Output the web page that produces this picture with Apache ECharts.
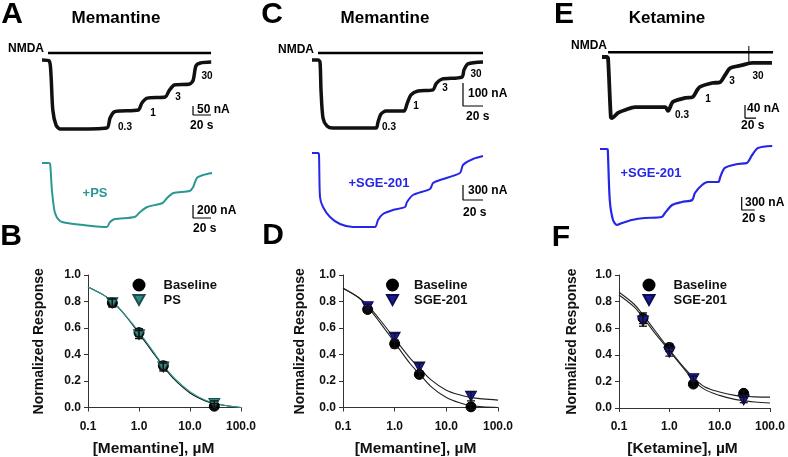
<!DOCTYPE html>
<html><head><meta charset="utf-8">
<script src="https://cdn.jsdelivr.net/npm/echarts/dist/echarts.min.js"></script>
<style>html,body{margin:0;padding:0;background:#fff}#c{width:788px;height:457px}</style>
</head><body><div id="c"></div>
<script>
// ---------- DATA ----------
// Current traces: [time (s), current (nA)]
const traceA = [[0,5],[8,0],[10,-78],[12,-272],[15.6,-356],[20,-378],[31,-378],[72,-372],[75.6,-317],[80,-283],[87,-278],[107,-272],[111,-233],[117,-206],[137,-200],[141,-167],[147,-133],[164,-128],[168,-106],[171,-28],[176,-11],[188,-6]];
const traceAPS = [[0,0],[7,0],[9,-15],[11,-415],[14.4,-769],[20,-892],[28,-923],[46,-954],[72,-985],[75.6,-908],[81,-862],[103,-831],[109,-754],[117,-677],[134,-615],[139,-538],[146,-462],[164,-431],[168,-369],[172,-231],[179,-185],[189,-154]];
const traceC = [[0,0],[6,0],[8,-9],[9,-130],[11,-252],[15,-287],[21,-296],[64,-296],[66,-270],[69,-235],[74,-222],[92,-222],[95,-191],[99,-152],[106,-135],[121,-130],[124,-104],[130,-83],[150,-74],[152,-43],[156,-17],[171,-9]];
const traceCSGE = [[0,0],[6,0],[7,-40],[8,-880],[11,-1080],[18,-1280],[28,-1420],[41,-1480],[63,-1480],[66,-1340],[71,-1220],[81,-1140],[93,-1080],[95,-980],[101,-840],[118,-720],[121,-600],[128,-540],[148,-400],[151,-240],[161,-120],[171,-60]];
const traceE = [[0,0],[9,0],[11,-3],[16,-185],[18,-188],[29,-172],[42,-163],[60,-154],[115,-154],[120,-166],[129,-138],[151,-126],[165,-123],[173,-102],[178,-92],[200,-80],[215,-77],[224,-55],[233,-34],[255,-25],[273,-18],[309,-18]];
const traceESGE = [[0,0],[11,0],[12,-23],[15,-1177],[20,-1638],[26,-1754],[34,-1708],[49,-1638],[69,-1592],[95,-1569],[100,-1477],[111,-1292],[126,-1223],[142,-1177],[146,-1015],[157,-831],[166,-762],[182,-762],[185,-646],[192,-438],[212,-346],[226,-323],[234,-138],[243,23],[265,69]];
// NMDA application periods [start s, end s]
const nmdaA = [6.7, 187.8];
const nmdaC = [6, 171];
const nmdaE = [11, 311];
const ketArtifactE = [34, -18];  // small artifact tick (nA range) at t=267
// Scale bars: [seconds, nA]
const scaleA = [20, 50], scaleAPS = [20, 200], scaleC = [20, 100], scaleCSGE = [20, 300], scaleE = [20, 40], scaleESGE = [20, 300];
const stepLabels = ['0.3', '1', '3', '30'];

// Concentration-response
const doseConc = [0.3, 1, 3, 30];
const memB_base = [0.79, 0.565, 0.315, 0.01];
const memB_baseErr = [0.03, 0.03, 0.03, 0.02];
const memB_ps = [0.79, 0.55, 0.305, 0.03];
const memB_psErr = [0.03, 0.03, 0.03, 0.02];
const memD_base = [0.74, 0.48, 0.25, 0.005];
const memD_baseErr = [0.02, 0.03, 0.02, 0.02];
const memD_sge = [0.76, 0.53, 0.305, 0.085];
const memD_sgeErr = [0.02, 0.03, 0.03, 0.035];
const ketF_base = [0.675, 0.455, 0.18, 0.11];
const ketF_baseErr = [0.04, 0.03, 0.02, 0.02];
const ketF_sge = [0.655, 0.42, 0.22, 0.06];
const ketF_sgeErr = [0.04, 0.03, 0.02, 0.02];
// Fitted curves read at these concentrations
const fitX = [0.1, 0.2, 0.3, 0.5, 1, 2, 3, 5, 10, 20, 30, 50, 100];
const fitB_base = [0.91, 0.85, 0.80, 0.71, 0.56, 0.40, 0.31, 0.21, 0.11, 0.05, 0.03, 0.015, 0.0];
const fitB_ps   = [0.91, 0.85, 0.80, 0.71, 0.57, 0.41, 0.32, 0.22, 0.12, 0.055, 0.035, 0.015, 0.0];
const fitD_base = [0.90, 0.83, 0.76, 0.65, 0.49, 0.33, 0.255, 0.16, 0.075, 0.03, 0.015, 0.005, 0.0];
const fitD_sge  = [0.90, 0.83, 0.77, 0.67, 0.52, 0.37, 0.30, 0.21, 0.13, 0.09, 0.075, 0.065, 0.056];
const fitF_base = [0.87, 0.78, 0.70, 0.59, 0.44, 0.30, 0.23, 0.16, 0.12, 0.095, 0.088, 0.084, 0.082];
const fitF_sge  = [0.85, 0.76, 0.68, 0.57, 0.43, 0.29, 0.21, 0.14, 0.095, 0.065, 0.055, 0.045, 0.038];

// ---------- LAYOUT ----------
const FF = '"Liberation Sans", Arial, Helvetica, sans-serif';
const TEAL = '#2a9892', TEAL_MK = '#2d8a86', BLUE = '#2626e6', NAVY = '#1c1c96';
// trace panels: origin px (x0,y0) for t=0,I=0 ; px per s ; px per nA ; axis ranges
const tl = [
  {x0:42,  y0:61,  sx:0.9,  sy:0.18,    t:[0,200], i:[-400,100]},
  {x0:42,  y0:163, sx:0.9,  sy:0.065,   t:[0,200], i:[-1200,200]},
  {x0:312, y0:60,  sx:1.0,  sy:0.23,    t:[0,180], i:[-400,100]},
  {x0:312, y0:153, sx:1.0,  sy:0.05,    t:[0,180], i:[-1800,200]},
  {x0:602, y0:57,  sx:0.55, sy:0.325,   t:[0,320], i:[-240,60]},
  {x0:600, y0:149, sx:0.65, sy:13/300,  t:[0,280], i:[-2100,200]}
];
const grids = tl.map(L => ({left: L.x0 + L.t[0]*L.sx, top: L.y0 - L.i[1]*L.sy,
  width: (L.t[1]-L.t[0])*L.sx, height: (L.i[1]-L.i[0])*L.sy, containLabel:false, outerBoundsMode:'none'}));
const doseGrids = [
  {left:88,  top:275, width:153, height:132.5},
  {left:343, top:275, width:155, height:132.5},
  {left:619, top:275, width:151, height:133}
];
doseGrids.forEach(g => { g.containLabel = false; g.outerBoundsMode = 'none'; grids.push(g); });

const xAxes = [], yAxes = [];
tl.forEach((L, k) => {
  xAxes.push({gridIndex:k, type:'value', min:L.t[0], max:L.t[1], show:false});
  yAxes.push({gridIndex:k, type:'value', min:L.i[0], max:L.i[1], show:false});
});
const xNames = ['[Memantine], \u00B5M', '[Memantine], \u00B5M', '[Ketamine], \u00B5M'];
const xNamePad = [[0,22,0,0],[0,10,0,0],[0,24,0,0]];
const yNameGap = [42, 36, 40];
for (let d = 0; d < 3; d++) {
  xAxes.push({gridIndex:6+d, type:'log', logBase:10, min:0.1, max:100,
    axisLine:{lineStyle:{color:'#333', width:1}}, axisTick:{length:4, lineStyle:{color:'#333'}},
    minorTick:{show:false}, splitLine:{show:false},
    axisLabel:{formatter:v => Number(v).toFixed(1), color:'#111', fontWeight:'bold', fontSize:12, margin:13, fontFamily:FF},
    name:xNames[d], nameLocation:'middle', nameGap:33,
    nameTextStyle:{color:'#111', fontWeight:'bold', fontSize:15.5, fontFamily:FF, padding:xNamePad[d]}});
  yAxes.push({gridIndex:6+d, type:'value', min:0, max:1, interval:0.2,
    axisLine:{show:true, lineStyle:{color:'#333', width:1}}, axisTick:{show:true, length:4, lineStyle:{color:'#333'}},
    splitLine:{show:false},
    axisLabel:{formatter:v => v.toFixed(1), color:'#111', fontWeight:'bold', fontSize:12, margin:7, fontFamily:FF},
    name:'Normalized Response', nameLocation:'middle', nameGap:yNameGap[d],
    nameTextStyle:{color:'#111', fontWeight:'bold', fontSize:14, fontFamily:FF}});
}

const series = [];
function traceSeries(k, data, color, w) {
  series.push({type:'line', xAxisIndex:k, yAxisIndex:k, data:data, showSymbol:false, symbol:'none',
    smooth:0.25, lineStyle:{color:color, width:w}, silent:true, z:3});
}
function polySeries(k, data, w) {
  series.push({type:'line', xAxisIndex:k, yAxisIndex:k, data:data, symbol:'none', smooth:false,
    lineStyle:{color:'#000', width:w}, silent:true, clip:false});
}
function scaleBar(k, corner, sb) {
  polySeries(k, [[corner[0], corner[1]+sb[1]], corner, [corner[0]+sb[0], corner[1]]], 1.2);
}
traceSeries(0, traceA, '#111', 3.5);
traceSeries(1, traceAPS, TEAL, 2);
traceSeries(2, traceC, '#111', 3.5);
traceSeries(3, traceCSGE, BLUE, 2);
traceSeries(4, traceE, '#111', 3.8);
traceSeries(5, traceESGE, BLUE, 2.2);
polySeries(0, [[nmdaA[0], 44], [nmdaA[1], 44]], 2.5);
polySeries(2, [[nmdaC[0], 30], [nmdaC[1], 30]], 2.5);
polySeries(4, [[nmdaE[0], 15], [nmdaE[1], 15]], 2.5);
polySeries(4, [[267, ketArtifactE[0]], [267, ketArtifactE[1]]], 1);
scaleBar(0, [167.8, -300], scaleA);
scaleBar(1, [167.8, -846], scaleAPS);
scaleBar(2, [151, -200], scaleC);
scaleBar(3, [151, -940], scaleCSGE);
scaleBar(4, [260, -188], scaleE);
scaleBar(5, [218, -1408], scaleESGE);

const TRI = 'path://M0,0L10,0L5,9Z';
function errSeries(gi, xs, ys, es) {
  series.push({type:'custom', xAxisIndex:gi, yAxisIndex:gi, z:6, silent:true,
    data: xs.map((x, i) => [x, ys[i], es[i]]),
    renderItem: function (params, api) {
      const x = api.value(0), y = api.value(1), e = api.value(2);
      const a = api.coord([x, y + e]), b = api.coord([x, y - e]);
      const st = {stroke:'#111', lineWidth:1.3};
      return {type:'group', children:[
        {type:'line', shape:{x1:a[0], y1:a[1], x2:b[0], y2:b[1]}, style:st},
        {type:'line', shape:{x1:a[0]-4, y1:a[1], x2:a[0]+4, y2:a[1]}, style:st},
        {type:'line', shape:{x1:b[0]-4, y1:b[1], x2:b[0]+4, y2:b[1]}, style:st}
      ]};
    }});
}
function fitSeries(gi, ys, color) {
  series.push({type:'line', name:'fit', xAxisIndex:gi, yAxisIndex:gi, data: fitX.map((x, i) => [x, ys[i]]),
    symbol:'none', smooth:0.35, lineStyle:{color:color, width:1.1}, silent:true, z:2});
}
function pointSeries(gi, name, ys, sym, size, fill, border) {
  series.push({type:'scatter', name:name, xAxisIndex:gi, yAxisIndex:gi, data: doseConc.map((x, i) => [x, ys[i]]),
    symbol:sym, symbolSize:size, itemStyle:{color:fill, borderColor:border, borderWidth:1, opacity:1}, z:4, silent:true});
}
// B
fitSeries(6, fitB_base, '#111'); fitSeries(6, fitB_ps, TEAL);
pointSeries(6, 'Baseline', memB_base, 'circle', 10, '#000', '#000');
pointSeries(6, 'PS', memB_ps, TRI, [11, 10], TEAL_MK, '#1d4f4d');
errSeries(6, doseConc, memB_base, memB_baseErr); errSeries(6, doseConc, memB_ps, memB_psErr);
// D
fitSeries(7, fitD_base, '#222'); fitSeries(7, fitD_sge, '#222');
pointSeries(7, 'Baseline', memD_base, 'circle', 10, '#000', '#000');
pointSeries(7, 'SGE-201', memD_sge, TRI, [11, 10], NAVY, '#0c0c50');
errSeries(7, doseConc, memD_base, memD_baseErr); errSeries(7, doseConc, memD_sge, memD_sgeErr);
// F
fitSeries(8, fitF_base, '#222'); fitSeries(8, fitF_sge, '#222');
pointSeries(8, 'Baseline', ketF_base, 'circle', 10, '#000', '#000');
pointSeries(8, 'SGE-201', ketF_sge, TRI, [11, 10], NAVY, '#0c0c50');
errSeries(8, doseConc, ketF_base, ketF_baseErr); errSeries(8, doseConc, ketF_sge, ketF_sgeErr);

function legendAt(names, left, pad) {
  return {data:names, orient:'vertical', left:left, top:278.5, padding:0, itemWidth:11, itemHeight:11, itemGap:2,
    selectedMode:false, textStyle:{fontSize:13, fontWeight:'bold', color:'#111', fontFamily:FF, lineHeight:13, padding:[0,0,0,pad]}};
}

function txt(t, x, y, size, align, color) {
  return {type:'text', silent:true, style:{text:t, x:x, y:y, align:align || 'left', verticalAlign:'middle',
    font:'bold ' + size + 'px ' + FF, fill: color || '#000'}};
}
const graphic = [
  txt('A', 12, 15, 30, 'center'), txt('C', 272, 15, 30, 'center'), txt('E', 564, 15, 30, 'center'),
  txt('B', 11, 237, 30, 'center'), txt('D', 273, 236, 30, 'center'), txt('F', 561, 238, 30, 'center'),
  txt('Memantine', 116, 18, 17, 'center'), txt('Memantine', 385, 18, 17, 'center'), txt('Ketamine', 667, 18, 17, 'center'),
  txt('NMDA', 8, 49, 12), txt('NMDA', 278, 50, 12), txt('NMDA', 571, 46, 12),
  txt(stepLabels[0], 125, 127, 10, 'center'), txt(stepLabels[1], 153, 113, 10, 'center'), txt(stepLabels[2], 178, 97, 10, 'center'), txt(stepLabels[3], 207, 76, 10, 'center'),
  txt(stepLabels[0], 389, 127, 10, 'center'), txt(stepLabels[1], 416, 106, 10, 'center'), txt(stepLabels[2], 445, 88, 10, 'center'), txt(stepLabels[3], 476, 74, 10, 'center'),
  txt(stepLabels[0], 682, 115, 10, 'center'), txt(stepLabels[1], 708, 99, 10, 'center'), txt(stepLabels[2], 732, 81, 10, 'center'), txt(stepLabels[3], 758, 76, 10, 'center'),
  txt(scaleA[1] + ' nA', 197, 110, 12), txt(scaleA[0] + ' s', 190, 126, 12),
  txt(scaleAPS[1] + ' nA', 197, 211, 12), txt(scaleAPS[0] + ' s', 193, 229, 12),
  txt(scaleC[1] + ' nA', 468, 94, 12), txt(scaleC[0] + ' s', 466, 117, 12),
  txt(scaleCSGE[1] + ' nA', 468, 191, 12), txt(scaleCSGE[0] + ' s', 463, 213, 12),
  txt(scaleE[1] + ' nA', 747, 109, 12), txt(scaleE[0] + ' s', 741, 126, 12),
  txt(scaleESGE[1] + ' nA', 745, 203, 12), txt(scaleESGE[0] + ' s', 742, 219, 12),
  txt('+PS', 95, 193, 13, 'center', TEAL), txt('+SGE-201', 379, 183, 13, 'center', BLUE), txt('+SGE-201', 651, 173, 13, 'center', BLUE)
];

const chart = echarts.init(document.getElementById('c'), null, {renderer:'canvas'});
chart.setOption({
  animation:false, backgroundColor:'#fff', textStyle:{fontFamily:FF},
  grid:grids, xAxis:xAxes, yAxis:yAxes, series:series,
  legend:[legendAt(['Baseline','PS'], 132.5, 14), legendAt(['Baseline','SGE-201'], 386, 11), legendAt(['Baseline','SGE-201'], 642.5, 14)],
  graphic:graphic
});
</script></body></html>
